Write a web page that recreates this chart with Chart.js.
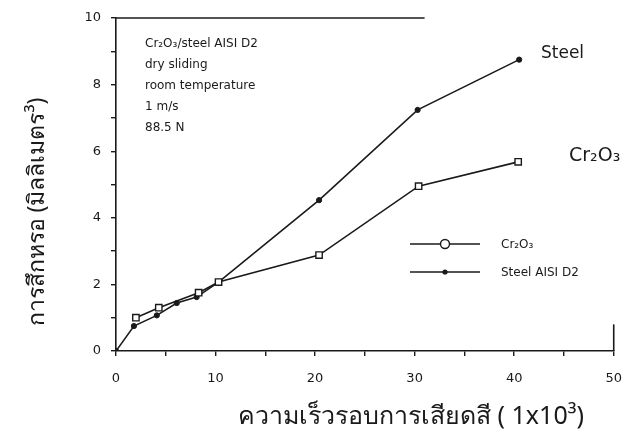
<!DOCTYPE html>
<html>
<head>
<meta charset="utf-8">
<script src="https://cdn.jsdelivr.net/npm/chart.js@4/dist/chart.umd.min.js"></script>
<style>
  html, body { margin: 0; padding: 0; background: #fff; }
  #wrap { width: 637px; height: 438px; position: relative; }
</style>
</head>
<body>
<div id="wrap"><canvas id="c" width="637" height="438"></canvas></div>
<script>
// Wear volume vs sliding distance, Cr2O3 coating against AISI D2 steel
const seriesNames = ['Cr\u2082O\u2083', 'Steel AISI D2'];
const cr2o3X = [2.0, 4.3, 8.3, 10.3, 20.4, 30.4, 40.4];
const cr2o3Y = [1.0, 1.3, 1.75, 2.07, 2.88, 4.95, 5.68];
const steelX = [0, 1.8, 4.1, 6.1, 8.1, 10.3, 20.4, 30.3, 40.5];
const steelY = [0, 0.75, 1.07, 1.44, 1.62, 2.07, 4.53, 7.24, 8.75];
const xTickLabels = [0, 10, 20, 30, 40, 50];
const yTickLabels = [0, 2, 4, 6, 8, 10];
const conditions = ['Cr\u2082O\u2083/steel AISI D2', 'dry sliding', 'room temperature', '1 m/s', '88.5 N'];
const yTitle = 'การสึกหรอ (มิลลิเมตร³)';
const xTitle = 'ความเร็วรอบการเสียดสี ( 1x10³)';

const INK = '#1a1a1a';
const tickFont = { family: 'DejaVu Sans', size: 13 };

const toPts = (xs, ys) => xs.map((x, i) => ({ x, y: ys[i] }));

const datasets = [
  {
    label: seriesNames[0],
    data: toPts(cr2o3X, cr2o3Y),
    showLine: true,
    borderColor: INK,
    borderWidth: 1.6,
    pointStyle: 'rect',
    pointRadius: 4.5,
    pointBackgroundColor: '#fff',
    pointBorderColor: INK,
    pointBorderWidth: 1.4
  },
  {
    label: seriesNames[1],
    data: toPts(steelX, steelY),
    showLine: true,
    borderColor: INK,
    borderWidth: 1.6,
    pointStyle: 'circle',
    pointRadius: 2.6,
    pointBackgroundColor: INK,
    pointBorderColor: INK,
    pointBorderWidth: 1
  }
];

// Partial frame, condition notes, end-of-curve labels, legend and axis titles
const decorations = {
  id: 'decorations',
  afterDraw(chart) {
    const { ctx, scales } = chart;
    const xs = scales.x, ys = scales.y;
    ctx.save();
    ctx.strokeStyle = INK;
    ctx.lineWidth = 1.6;
    // top edge of the frame (faded beyond x = 31)
    ctx.beginPath();
    ctx.moveTo(xs.getPixelForValue(0), ys.getPixelForValue(10));
    ctx.lineTo(xs.getPixelForValue(31), ys.getPixelForValue(10));
    ctx.stroke();
    // lower part of the right edge
    ctx.beginPath();
    ctx.moveTo(xs.getPixelForValue(50), ys.getPixelForValue(0));
    ctx.lineTo(xs.getPixelForValue(50), ys.getPixelForValue(0.8));
    ctx.stroke();

    // test conditions block
    ctx.fillStyle = INK;
    ctx.font = '12px "DejaVu Sans"';
    ctx.textAlign = 'left';
    ctx.textBaseline = 'middle';
    conditions.forEach((t, i) => ctx.fillText(t, 145, 44 + i * 21));

    // handwritten series names at the curve ends
    ctx.font = '17px "DejaVu Sans"';
    ctx.fillText('Steel', 541, 54);
    ctx.font = '19px "DejaVu Sans"';
    ctx.fillText('Cr\u2082O\u2083', 569, 156);

    // legend
    const rows = [244, 272];
    datasets.forEach((ds, i) => {
      const y = rows[i];
      ctx.lineWidth = 1.6;
      ctx.beginPath();
      ctx.moveTo(410, y);
      ctx.lineTo(480, y);
      ctx.stroke();
      if (ds.pointStyle === 'rect') {
        ctx.beginPath();
        ctx.arc(445, y, 4.5, 0, Math.PI * 2);
        ctx.fillStyle = '#fff';
        ctx.fill();
        ctx.lineWidth = 1.4;
        ctx.stroke();
      } else {
        ctx.beginPath();
        ctx.arc(445, y, 2.6, 0, Math.PI * 2);
        ctx.fillStyle = INK;
        ctx.fill();
      }
      ctx.fillStyle = INK;
      ctx.font = '12px "DejaVu Sans"';
      ctx.fillText(ds.label, 501, y + 1);
    });

    // axis titles
    ctx.textAlign = 'center';
    ctx.font = '25px "Noto Sans", "DejaVu Sans", sans-serif';
    ctx.fillText(xTitle, 411, 417);
    ctx.font = '23px "Noto Sans", "DejaVu Sans", sans-serif';
    ctx.translate(37, 212);
    ctx.rotate(-Math.PI / 2);
    ctx.fillText(yTitle, 0, 0);
    ctx.restore();
  }
};

new Chart(document.getElementById('c'), {
  type: 'scatter',
  data: { datasets },
  options: {
    responsive: false,
    animation: false,
    layout: { padding: { left: 0, right: 9, top: 18, bottom: 0 } },
    plugins: { legend: { display: false }, tooltip: { enabled: false } },
    scales: {
      x: {
        type: 'linear',
        min: 0, max: 50,
        afterFit(s) { s.height = 87; },
        border: { display: true, color: INK, width: 1.6 },
        grid: { display: true, drawOnChartArea: false, drawTicks: true, tickLength: 5, color: INK, lineWidth: 1.4 },
        ticks: {
          stepSize: 5,
          padding: 15,
          color: INK,
          font: tickFont,
          maxRotation: 0,
          callback: v => xTickLabels.includes(v) ? String(v) : ''
        }
      },
      y: {
        type: 'linear',
        min: 0, max: 10,
        afterFit(s) { s.width = 116; },
        border: { display: true, color: INK, width: 1.6 },
        grid: { display: true, drawOnChartArea: false, drawTicks: true, tickLength: 5, color: INK, lineWidth: 1.4 },
        ticks: {
          stepSize: 1,
          padding: 10,
          color: INK,
          font: tickFont,
          callback: v => yTickLabels.includes(v) ? String(v) : ''
        }
      }
    }
  },
  plugins: [decorations]
});
</script>
</body>
</html>
